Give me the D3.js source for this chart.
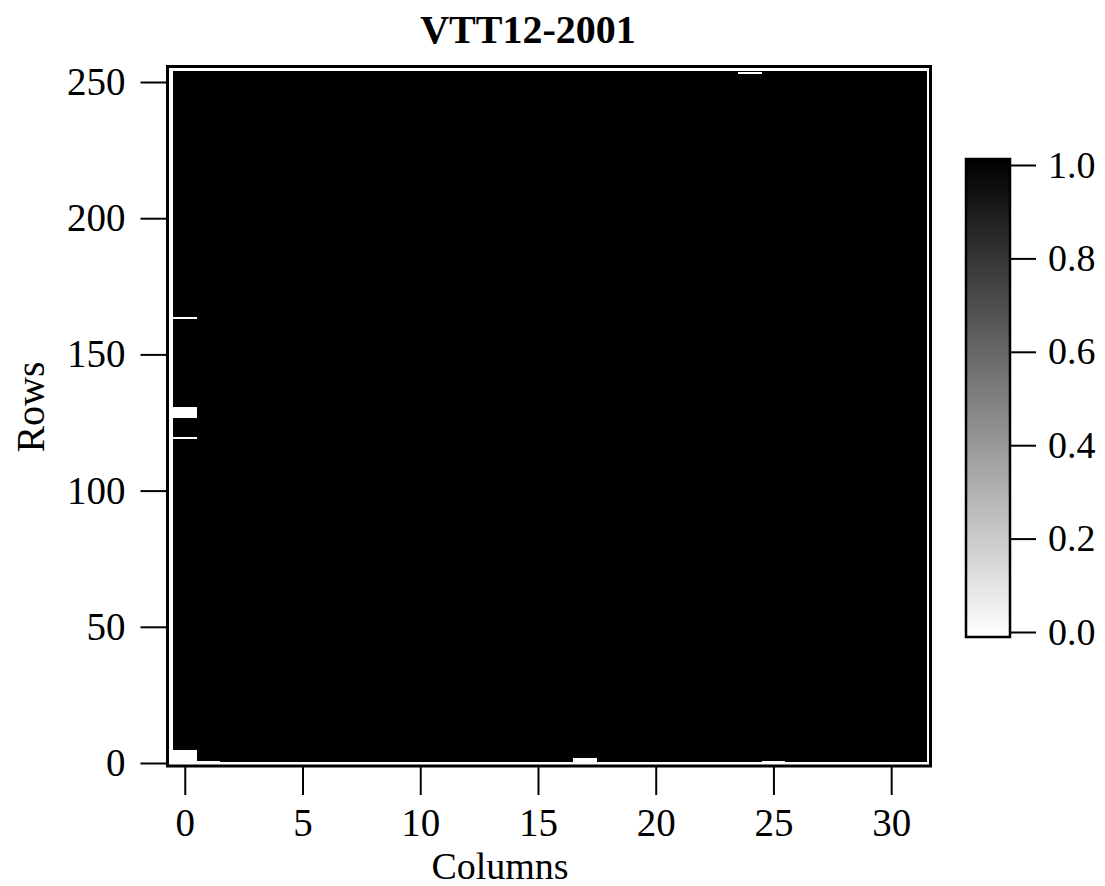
<!DOCTYPE html>
<html>
<head>
<meta charset="utf-8">
<script src="https://cdn.jsdelivr.net/npm/d3@7"></script>
<style>
    body { margin: 0; background: #ffffff; }
    #chart { width: 1105px; height: 886px; }
    text { font-family: "Liberation Serif", "Times New Roman", serif; fill: #000000; }
</style>
</head>
<body>
<div id="chart"></div>
<script>

/*
DATA
*/
const title = "VTT12-2001";
const columns = d3.range(0, 32);   // detector columns 0..31
const rows = d3.range(0, 256);     // detector rows 0..255

// every pixel reads 1.0 except these runs, which read 0.0
const zeroRuns = [
    {col: 0,  rowFrom: 0,   rowTo: 4},
    {col: 1,  rowFrom: 0,   rowTo: 0},
    {col: 0,  rowFrom: 119, rowTo: 119},
    {col: 0,  rowFrom: 127, rowTo: 130},
    {col: 0,  rowFrom: 163, rowTo: 163},
    {col: 17, rowFrom: 0,   rowTo: 1},
    {col: 24, rowFrom: 253, rowTo: 253},
    {col: 25, rowFrom: 0,   rowTo: 0}
];

const xTicks = [0, 5, 10, 15, 20, 25, 30];
const yTicks = [0, 50, 100, 150, 200, 250];
const colorTicks = [0, 0.2, 0.4, 0.6, 0.8, 1.0];

// build the cell table from the lists above
const cells = [];
columns.forEach(function(c) {
    rows.forEach(function(r) {
        const isZero = zeroRuns.some(function(z) {
            return z.col === c && r >= z.rowFrom && r <= z.rowTo;
        });
        cells.push({col: c, row: r, value: isZero ? 0 : 1});
    });
});


/*
SVG CANVAS
*/
const width = 1105;
const height = 886;
const inner = {left: 172, right: 927, top: 71, bottom: 762};
const frame = {left: 167.5, right: 930.5, top: 66.5, bottom: 766};

const svg = d3.select("#chart")
    .append("svg")
    .attr("width", width)
    .attr("height", height);


/*
SCALES
*/
const xScale = d3.scaleLinear()
    .domain([-0.5, 31.5])
    .range([173, 926.5]);

const yScale = d3.scaleLinear()
    .domain([0, 250])
    .range([763, 82]);

const colorScale = d3.scaleLinear()
    .domain([0, 1])
    .range(["#ffffff", "#000000"]);


/*
HEATMAP
*/
svg.append("clipPath")
    .attr("id", "plotClip")
    .append("rect")
        .attr("x", inner.left)
        .attr("y", inner.top)
        .attr("width", inner.right - inner.left)
        .attr("height", inner.bottom - inner.top);

svg.append("g")
    .attr("clip-path", "url(#plotClip)")
    .attr("shape-rendering", "crispEdges")
    .selectAll("rect")
    .data(cells)
    .enter()
    .append("rect")
        .attr("x", function(d) { return xScale(d.col - 0.5); })
        .attr("y", function(d) { return yScale(d.row + 1); })
        .attr("width", function(d) { return xScale(d.col + 0.5) - xScale(d.col - 0.5) + 0.5; })
        .attr("height", function(d) { return yScale(d.row) - yScale(d.row + 1) + 0.5; })
        .attr("fill", function(d) { return colorScale(d.value); });

// frame round the plot
svg.append("rect")
    .attr("x", frame.left)
    .attr("y", frame.top)
    .attr("width", frame.right - frame.left)
    .attr("height", frame.bottom - frame.top)
    .attr("fill", "none")
    .attr("stroke", "#000000")
    .attr("stroke-width", 3);


/*
AXES
*/
const xAxis = svg.append("g")
    .attr("transform", `translate(0,${frame.bottom + 1})`)
    .call(d3.axisBottom(xScale).tickValues(xTicks).tickSize(28).tickPadding(13));

const yAxis = svg.append("g")
    .attr("transform", `translate(${frame.left},0)`)
    .call(d3.axisLeft(yScale).tickValues(yTicks).tickSize(27).tickPadding(15));

[xAxis, yAxis].forEach(function(a) {
    a.select(".domain").remove();
    a.selectAll(".tick line").attr("stroke", "#000000").attr("stroke-width", 2);
    a.selectAll(".tick text")
        .style("font-family", "'Liberation Serif', serif")
        .style("font-size", "39px")
        .attr("fill", "#000000");
});


/*
TITLE + AXIS LABELS
*/
svg.append("text")
    .attr("x", 528)
    .attr("y", 43)
    .attr("text-anchor", "middle")
    .style("font-size", "40px")
    .style("font-weight", "bold")
    .text(title);

svg.append("text")
    .attr("x", 500)
    .attr("y", 879)
    .attr("text-anchor", "middle")
    .style("font-size", "38px")
    .text("Columns");

svg.append("text")
    .attr("transform", "translate(44,407) rotate(-90)")
    .attr("text-anchor", "middle")
    .style("font-size", "40px")
    .text("Rows");


/*
COLOUR BAR
*/
const bar = {left: 966, right: 1010, top: 159, bottom: 637};

const cScale = d3.scaleLinear()
    .domain([0, 1])
    .range([632, 165]);

const gradient = svg.append("defs")
    .append("linearGradient")
    .attr("id", "greyRamp")
    .attr("x1", "0").attr("y1", "1")
    .attr("x2", "0").attr("y2", "0");

gradient.selectAll("stop")
    .data(colorTicks)
    .enter()
    .append("stop")
        .attr("offset", function(d) { return d; })
        .attr("stop-color", function(d) { return colorScale(d); });

svg.append("rect")
    .attr("x", bar.left)
    .attr("y", bar.top)
    .attr("width", bar.right - bar.left)
    .attr("height", bar.bottom - bar.top)
    .attr("fill", "url(#greyRamp)")
    .attr("stroke", "#000000")
    .attr("stroke-width", 2.5);

const cAxis = svg.append("g")
    .attr("transform", `translate(${bar.right},0)`)
    .call(d3.axisRight(cScale).tickValues(colorTicks).tickSize(26).tickPadding(12).tickFormat(d3.format(".1f")));

cAxis.select(".domain").remove();
cAxis.selectAll(".tick line").attr("stroke", "#000000").attr("stroke-width", 2);
cAxis.selectAll(".tick text")
    .style("font-family", "'Liberation Serif', serif")
    .style("font-size", "38px")
    .attr("fill", "#000000");

</script>
</body>
</html>
